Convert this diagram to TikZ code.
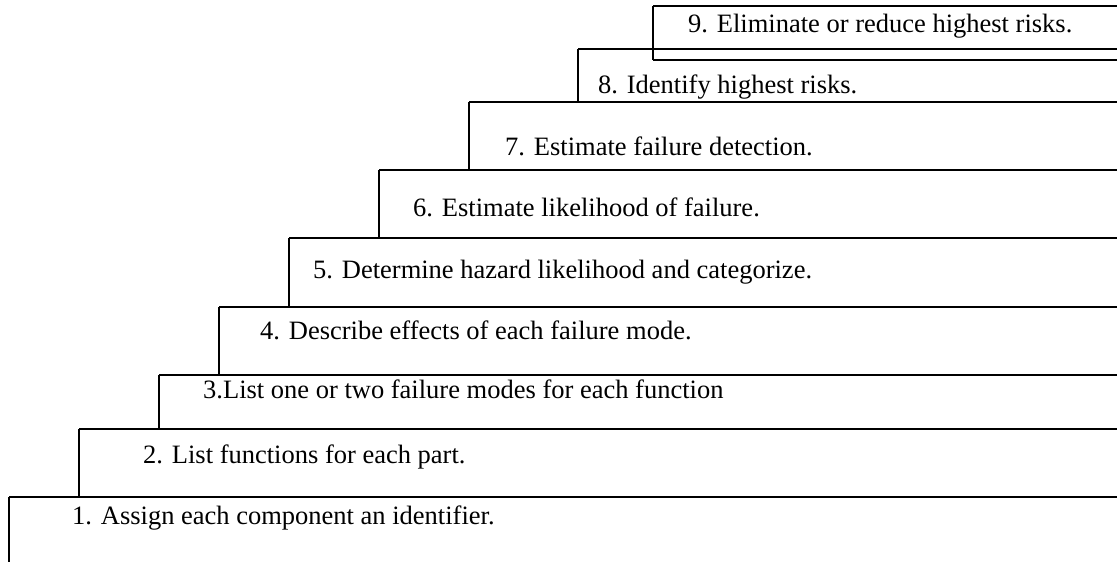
\documentclass[tikz,border=0pt]{standalone}
\usepackage{fontspec}
\setmainfont{Liberation Serif}
\begin{document}
\begin{tikzpicture}[x=1pt,y=-1pt,
  hline/.style={line width=1.6pt},
  vline/.style={line width=1.1pt},
  lbl/.style={anchor=base west, inner sep=0pt, font=\fontsize{26.5}{30}\selectfont}]
\useasboundingbox (0,0) rectangle (1117,562);
\coordinate (E) at (1120,0);
\coordinate (B) at (0,562);
\coordinate (s1) at (9,497);
\coordinate (s2) at (79,429);
\coordinate (s3) at (159,375);
\coordinate (s4) at (219,307);
\coordinate (s5) at (289,238);
\coordinate (s6) at (379,170);
\coordinate (s7) at (469,102);
\coordinate (s8) at (578,49);
\coordinate (s9) at (653,6);
\coordinate (b9) at (653,60);
% left sides
\draw[vline] (s1) -- (s1 |- B);
\draw[vline] (s2) -- (s2 |- s1);
\draw[vline] (s3) -- (s3 |- s2);
\draw[vline] (s4) -- (s4 |- s3);
\draw[vline] (s5) -- (s5 |- s4);
\draw[vline] (s6) -- (s6 |- s5);
\draw[vline] (s7) -- (s7 |- s6);
\draw[vline] (s8) -- (s8 |- s7);
\draw[vline] (s9) -- (b9);
% tops
\foreach \s in {s1,s2,s3,s4,s5,s6,s7,s8,s9,b9}
  \draw[hline] (\s) -- (\s -| E);
% labels
\node[lbl] (t1) at (72,524) {1. Assign each component an identifier.};
\node[lbl] (t2) at (143,463) {2. List functions for each part.};
\node[lbl] (t3) at (203,398) {3.List one or two failure modes for each function};
\node[lbl] (t4) at (260,339) {4. Describe effects of each failure mode.};
\node[lbl] (t5) at (313,278) {5. Determine hazard likelihood and categorize.};
\node[lbl] (t6) at (413,216) {6. Estimate likelihood of failure.};
\node[lbl] (t7) at (505,155) {7. Estimate failure detection.};
\node[lbl] (t8) at (598,93) {8. Identify highest risks.};
\node[lbl] (t9) at (688,32) {9. Eliminate or reduce highest risks.};
\end{tikzpicture}
\end{document}
